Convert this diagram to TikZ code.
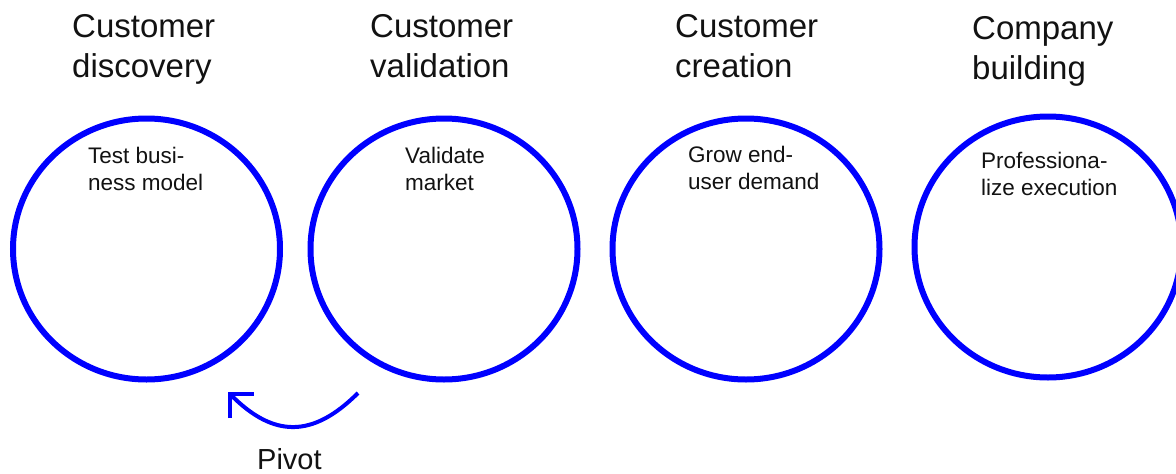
\documentclass[tikz,border=0pt]{standalone}
\usepackage{fontspec}
\setmainfont{Liberation Sans}
\usetikzlibrary{shapes.geometric,arrows.meta}
\begin{document}
\begin{tikzpicture}[x=1pt,y=-1pt,
  ring/.style={ellipse, draw=blue, line width=6pt, minimum width=267pt, minimum height=261pt, inner sep=0pt},
  title/.style={anchor=base west, align=left, inner sep=0pt, text=black!93, font=\fontsize{33}{40}\selectfont},
  inner/.style={anchor=base west, align=left, inner sep=0pt, text=black!93, font=\fontsize{22.5}{27}\selectfont},
  pivotlabel/.style={anchor=base west, inner sep=0pt, text=black!93, font=\fontsize{29}{35}\selectfont},
  pivotarrow/.style={draw=blue, line width=4pt, -{Straight Barb[length=17pt,width=34pt]}}
]
\useasboundingbox (0,0) rectangle (1176,474);
\node[ring] (c1) at (146.5,249) {};
\node[ring] (c2) at (444,249) {};
\node[ring] (c3) at (746,249) {};
\node[ring] (c4) at (1048,247) {};

\node[title] (t1) at (72,77) {Customer\\discovery};
\node[title] (t2) at (370,77) {Customer\\validation};
\node[title] (t3) at (675,77) {Customer\\creation};
\node[title] (t4) at (972,79) {Company\\building};

\node[inner] (i1) at (88,190) {Test busi-\\ness model};
\node[inner] (i2) at (405,190) {Validate\\market};
\node[inner] (i3) at (688,189) {Grow end-\\user demand};
\node[inner] (i4) at (981,195) {Professiona-\\lize execution};

\node[pivotlabel] (pv) at (257,469) {Pivot};
\coordinate (ps) at (358,393);
\coordinate (pe) at (228,392);
\draw[pivotarrow] (ps) .. controls (312.5,438.5) and (273.5,437.5) .. (pe);
\end{tikzpicture}
\end{document}
